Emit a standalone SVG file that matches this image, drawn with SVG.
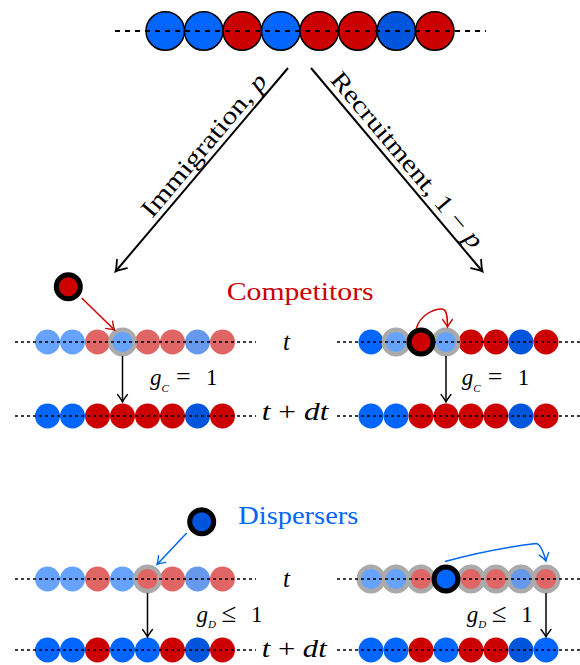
<svg xmlns="http://www.w3.org/2000/svg" width="580" height="665" viewBox="0 0 580 665">
<defs>
<style>
.b{fill:#0066ff}.r{fill:#cc0000}.d{fill:#0055dd}
.lb{fill:#66a3ff}.lr{fill:#e06666}.ld{fill:#6699eb}
.ring{stroke:#aaaaaa;stroke-width:4.4}
.bring{stroke:#000;stroke-width:5}
.top circle{stroke:#000;stroke-width:1.5}
.dash{stroke:#000;stroke-width:1.5;stroke-dasharray:3 3;fill:none}
.dashbig{stroke:#000;stroke-width:2.2;stroke-dasharray:5 5;fill:none}
text{font-family:"Liberation Serif","Times New Roman","Tinos","Noto Serif","DejaVu Serif","FreeSerif","Nimbus Roman",Times,serif}
.it{font-style:italic}
.ar{fill:none;stroke:#000;stroke-width:1.5}
</style>
<marker id="hk" markerUnits="strokeWidth" orient="auto" refX="0" refY="0" overflow="visible">
<path d="M -5 -3.3 Q -1.6 -0.7 0 0 Q -1.6 0.7 -5 3.3" fill="none" stroke="#000" stroke-width="0.9" stroke-linecap="round"/>
</marker>
<marker id="hr" markerUnits="strokeWidth" orient="auto" refX="0" refY="0" overflow="visible">
<path d="M -5 -3.3 Q -1.6 -0.7 0 0 Q -1.6 0.7 -5 3.3" fill="none" stroke="#cc0000" stroke-width="0.9" stroke-linecap="round"/>
</marker>
<marker id="hb" markerUnits="strokeWidth" orient="auto" refX="0" refY="0" overflow="visible">
<path d="M -5 -3.3 Q -1.6 -0.7 0 0 Q -1.6 0.7 -5 3.3" fill="none" stroke="#0066ee" stroke-width="0.9" stroke-linecap="round"/>
</marker>
</defs>
<rect width="580" height="665" fill="#fff"/>

<!-- top population -->
<g id="top-row" class="top">
<circle cx="165.25" cy="31" r="19.25" class="b"/>
<circle cx="203.75" cy="31" r="19.25" class="b"/>
<circle cx="242.25" cy="31" r="19.25" class="r"/>
<circle cx="280.75" cy="31" r="19.25" class="b"/>
<circle cx="319.25" cy="31" r="19.25" class="r"/>
<circle cx="357.75" cy="31" r="19.25" class="r"/>
<circle cx="396.25" cy="31" r="19.25" class="d"/>
<circle cx="434.75" cy="31" r="19.25" class="r"/>
<line x1="115" y1="31" x2="486" y2="31" class="dashbig"/>
</g>

<!-- competitors, immigration -->
<g id="comp-imm-t">
<circle cx="47.5" cy="342" r="12.5" class="lb"/>
<circle cx="72.5" cy="342" r="12.5" class="lb"/>
<circle cx="97.5" cy="342" r="12.5" class="lr"/>
<circle cx="147.5" cy="342" r="12.5" class="lr"/>
<circle cx="172.5" cy="342" r="12.5" class="lr"/>
<circle cx="197.5" cy="342" r="12.5" class="ld"/>
<circle cx="222.5" cy="342" r="12.5" class="lr"/>
<circle cx="122.5" cy="342" r="12.3" class="lb ring"/>
<line x1="15" y1="342" x2="256" y2="342" class="dash"/>
</g>
<g id="comp-imm-tdt">
<circle cx="47.5" cy="416" r="12.5" class="b"/>
<circle cx="72.5" cy="416" r="12.5" class="b"/>
<circle cx="97.5" cy="416" r="12.5" class="r"/>
<circle cx="122.5" cy="416" r="12.5" class="r"/>
<circle cx="147.5" cy="416" r="12.5" class="r"/>
<circle cx="172.5" cy="416" r="12.5" class="r"/>
<circle cx="197.5" cy="416" r="12.5" class="d"/>
<circle cx="222.5" cy="416" r="12.5" class="r"/>
<line x1="15" y1="416" x2="256" y2="416" class="dash"/>
</g>
<g id="comp-immigrant"><circle cx="68.3" cy="286.7" r="12" class="r bring"/></g>

<!-- competitors, recruitment -->
<g id="comp-rec-t">
<circle cx="371" cy="342" r="12.5" class="b"/>
<circle cx="471" cy="342" r="12.5" class="r"/>
<circle cx="496" cy="342" r="12.5" class="r"/>
<circle cx="521" cy="342" r="12.5" class="d"/>
<circle cx="546" cy="342" r="12.5" class="r"/>
<circle cx="396" cy="342" r="12.3" class="lb ring"/>
<circle cx="446" cy="342" r="12.3" class="lb ring"/>
<line x1="337" y1="342" x2="580" y2="342" class="dash"/>
<circle cx="421" cy="342" r="12" class="r bring"/>
</g>
<g id="comp-rec-tdt">
<circle cx="371" cy="416" r="12.5" class="b"/>
<circle cx="396" cy="416" r="12.5" class="b"/>
<circle cx="421" cy="416" r="12.5" class="r"/>
<circle cx="446" cy="416" r="12.5" class="r"/>
<circle cx="471" cy="416" r="12.5" class="r"/>
<circle cx="496" cy="416" r="12.5" class="r"/>
<circle cx="521" cy="416" r="12.5" class="d"/>
<circle cx="546" cy="416" r="12.5" class="r"/>
<line x1="337" y1="416" x2="580" y2="416" class="dash"/>
</g>

<!-- dispersers, immigration -->
<g id="disp-imm-t">
<circle cx="47.5" cy="579" r="12.5" class="lb"/>
<circle cx="72.5" cy="579" r="12.5" class="lb"/>
<circle cx="97.5" cy="579" r="12.5" class="lr"/>
<circle cx="122.5" cy="579" r="12.5" class="lb"/>
<circle cx="172.5" cy="579" r="12.5" class="lr"/>
<circle cx="197.5" cy="579" r="12.5" class="ld"/>
<circle cx="222.5" cy="579" r="12.5" class="lr"/>
<circle cx="147.5" cy="579" r="12.3" class="lr ring"/>
<line x1="15" y1="579" x2="256" y2="579" class="dash"/>
</g>
<g id="disp-imm-tdt">
<circle cx="47.5" cy="650" r="12.5" class="b"/>
<circle cx="72.5" cy="650" r="12.5" class="b"/>
<circle cx="97.5" cy="650" r="12.5" class="r"/>
<circle cx="122.5" cy="650" r="12.5" class="b"/>
<circle cx="147.5" cy="650" r="12.5" class="b"/>
<circle cx="172.5" cy="650" r="12.5" class="r"/>
<circle cx="197.5" cy="650" r="12.5" class="d"/>
<circle cx="222.5" cy="650" r="12.5" class="r"/>
<line x1="15" y1="650" x2="256" y2="650" class="dash"/>
</g>
<g id="disp-immigrant"><circle cx="201.7" cy="521.7" r="12" class="d bring"/></g>

<!-- dispersers, recruitment -->
<g id="disp-rec-t">
<circle cx="371" cy="579" r="12.3" class="lb ring"/>
<circle cx="396" cy="579" r="12.3" class="lb ring"/>
<circle cx="421" cy="579" r="12.3" class="lr ring"/>
<circle cx="471" cy="579" r="12.3" class="lr ring"/>
<circle cx="496" cy="579" r="12.3" class="lr ring"/>
<circle cx="521" cy="579" r="12.3" class="ld ring"/>
<circle cx="546" cy="579" r="12.3" class="lr ring"/>
<line x1="337" y1="579" x2="580" y2="579" class="dash"/>
<circle cx="446" cy="579" r="12" class="b bring"/>
</g>
<g id="disp-rec-tdt">
<circle cx="371" cy="650" r="12.5" class="b"/>
<circle cx="396" cy="650" r="12.5" class="b"/>
<circle cx="421" cy="650" r="12.5" class="r"/>
<circle cx="446" cy="650" r="12.5" class="b"/>
<circle cx="471" cy="650" r="12.5" class="r"/>
<circle cx="496" cy="650" r="12.5" class="r"/>
<circle cx="521" cy="650" r="12.5" class="d"/>
<circle cx="546" cy="650" r="12.5" class="b"/>
<line x1="337" y1="650" x2="580" y2="650" class="dash"/>
</g>

<!-- connectors -->
<g id="connectors">
<line x1="288" y1="68" x2="115.5" y2="271.5" stroke="#000" stroke-width="2" marker-end="url(#hk)"/>
<line x1="311" y1="68" x2="482.5" y2="271.5" stroke="#000" stroke-width="2" marker-end="url(#hk)"/>
<line x1="81.7" y1="298" x2="114.5" y2="330" stroke="#cc0000" stroke-width="1.5" marker-end="url(#hr)"/>
<path d="M416.5,328 C420,316 432,309 442,309 C447,309 447.5,318 447.5,327" fill="none" stroke="#cc0000" stroke-width="1.5" marker-end="url(#hr)"/>
<line x1="186.7" y1="533" x2="157" y2="564.5" stroke="#0066ee" stroke-width="1.5" marker-end="url(#hb)"/>
<path d="M445,561.5 Q490,549 536,543.5 Q541,543.5 546,561" fill="none" stroke="#0066ee" stroke-width="1.5" marker-end="url(#hb)"/>
<line x1="122.5" y1="356" x2="122.5" y2="402" class="ar" marker-end="url(#hk)"/>
<line x1="446" y1="356" x2="446" y2="402" class="ar" marker-end="url(#hk)"/>
<line x1="147.5" y1="593" x2="147.5" y2="637" class="ar" marker-end="url(#hk)"/>
<line x1="546" y1="593" x2="546" y2="637" class="ar" marker-end="url(#hk)"/>
</g>

<!-- labels -->
<g id="labels" fill="#000">
<text transform="translate(210.2,150.4) rotate(-49.7)" text-anchor="middle" font-size="25" textLength="180" lengthAdjust="spacingAndGlyphs">Immigration, <tspan class="it">p</tspan></text>
<text transform="translate(400.7,165.1) rotate(49.9)" text-anchor="middle" font-size="25" textLength="222" lengthAdjust="spacingAndGlyphs">Recruitment, 1 − <tspan class="it">p</tspan></text>
<text x="226.7" y="300" font-size="25" fill="#cc0000" textLength="147" lengthAdjust="spacingAndGlyphs">Competitors</text>
<text x="238.3" y="524" font-size="25" fill="#0066ff" textLength="120" lengthAdjust="spacingAndGlyphs">Dispersers</text>
<text x="283" y="350" font-size="25" class="it">t</text>
<text x="261.7" y="420" font-size="25" textLength="66.7" lengthAdjust="spacingAndGlyphs"><tspan class="it">t</tspan> + <tspan class="it">dt</tspan></text>
<text x="283" y="587" font-size="25" class="it">t</text>
<text x="261.7" y="657" font-size="25" textLength="65" lengthAdjust="spacingAndGlyphs"><tspan class="it">t</tspan> + <tspan class="it">dt</tspan></text>
<text font-size="23" y="385"><tspan x="150" class="it">g</tspan><tspan x="161.5" y="392" font-size="11" class="it">C</tspan><tspan x="176" y="385" font-size="26">=</tspan><tspan x="206" y="385">1</tspan></text>
<text font-size="23" y="385"><tspan x="461.7" class="it">g</tspan><tspan x="473.2" y="392" font-size="11" class="it">C</tspan><tspan x="487.7" y="385" font-size="26">=</tspan><tspan x="517.7" y="385">1</tspan></text>
<text font-size="23" y="621.7"><tspan x="196.5" class="it">g</tspan><tspan x="208" y="628" font-size="11" class="it">D</tspan><tspan x="221.5" y="621.7" font-size="27">≤</tspan><tspan x="251" y="621.7">1</tspan></text>
<text font-size="23" y="621.7"><tspan x="466.7" class="it">g</tspan><tspan x="478.2" y="628" font-size="11" class="it">D</tspan><tspan x="491.7" y="621.7" font-size="27">≤</tspan><tspan x="521.2" y="621.7">1</tspan></text>
</g>
</svg>
